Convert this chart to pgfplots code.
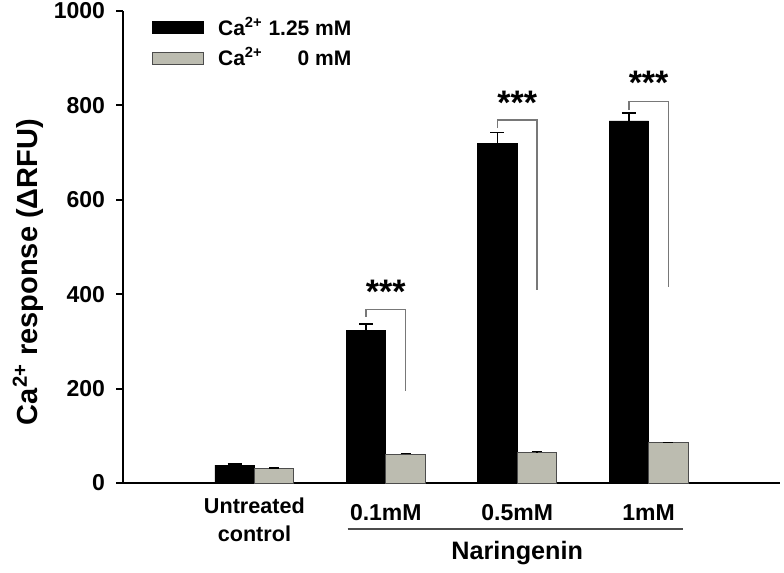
\documentclass[border=0pt]{standalone}
\usepackage{fontspec}
\setmainfont{Liberation Sans}
\usepackage{pgfplots}
\pgfplotsset{compat=1.18}
\usepackage{pgfplotstable}
\definecolor{bargray}{RGB}{188,188,176}
\definecolor{brk}{RGB}{120,120,120}
\pgfplotstableread{
x y e
0 38 2
1 324 13
2 720 22
3 767 17
}\blackdata
\pgfplotstableread{
x y e
0 30 1.5
1 61 2
2 64 3
3 85 1
}\graydata
\begin{document}
\begin{tikzpicture}
\begin{axis}[
  scale only axis, width=328.5pt, height=236pt,
  xmin=-1, xmax=4, ymin=0, ymax=1000,
  ybar=0pt, bar width=0.3,
  axis x line=bottom, axis y line=left,
  axis line style={-, line width=0.9pt},
  xtick=\empty,
  ytick={0,200,400,600,800,1000},
  tick align=outside, major tick length=3.5pt,
  ytick style={black, line width=0.9pt},
  /pgf/number format/assume math mode=true,
  /pgf/number format/1000 sep={},
  yticklabel style={font=\bfseries\fontsize{11.5}{13}\selectfont, xshift=-2pt},
  ylabel={\bfseries Ca\textsuperscript{2+} response (ΔRFU)},
  ylabel style={font=\fontsize{14.5}{16}\selectfont, at={(axis description cs:-0.1446,0.447)}, anchor=center},
  clip=false,
  legend style={draw=none, fill=none, at={(axis description cs:0.044,0.996)}, anchor=north west,
    font=\bfseries\fontsize{10.5}{12}\selectfont, row sep=0.5pt, inner sep=0pt, column sep=5pt},
  legend cell align=left,
]
\addplot[fill=black, draw=black,
  legend image code/.code={\draw[fill=black,draw=black] (0pt,-3pt) rectangle (25.5pt,3pt);},
  error bars/.cd, y dir=plus, y explicit,
  error bar style={line width=0.7pt, black},
  error mark options={rotate=90, mark size=3.5pt, line width=0.7pt, black}]
  table[x=x, y=y, y error=e] {\blackdata};
\addlegendentry{Ca\textsuperscript{2+} 1.25 mM}
\addplot[fill=bargray, draw=black!70, line width=0.4pt,
  legend image code/.code={\draw[fill=bargray,draw=black!70] (0pt,-3pt) rectangle (25.5pt,3pt);},
  error bars/.cd, y dir=plus, y explicit,
  error bar style={line width=0.7pt, black},
  error mark options={rotate=90, mark size=2.5pt, line width=0.7pt, black}]
  table[x=x, y=y, y error=e] {\graydata};
\addlegendentry{Ca\textsuperscript{2+} \hphantom{1.2}0 mM}

% significance brackets
\draw[brk, line width=0.6pt] (axis cs:0.85,352) -- (axis cs:0.85,367) -- (axis cs:1.15,367) -- (axis cs:1.15,195);
\draw[brk, line width=0.6pt] (axis cs:1.85,752) -- (axis cs:1.85,769) -- (axis cs:2.15,769) -- (axis cs:2.15,409);
\draw[brk, line width=0.6pt] (axis cs:2.85,790) -- (axis cs:2.85,809) -- (axis cs:3.15,809) -- (axis cs:3.15,415);
\node[font=\bfseries\fontsize{17}{17}\selectfont] at (axis cs:1,405) {***};
\node[font=\bfseries\fontsize{17}{17}\selectfont] at (axis cs:2,805) {***};
\node[font=\bfseries\fontsize{17}{17}\selectfont] at (axis cs:3,847) {***};

% category labels
\node[font=\bfseries\fontsize{10.8}{14}\selectfont, align=center] at ([yshift=-18.5pt]axis cs:0,0) {Untreated\\control};
\node[font=\bfseries\fontsize{11.5}{13}\selectfont] at ([yshift=-15pt]axis cs:1,0) {0.1mM};
\node[font=\bfseries\fontsize{11.5}{13}\selectfont] at ([yshift=-15pt]axis cs:2,0) {0.5mM};
\node[font=\bfseries\fontsize{11.5}{13}\selectfont] at ([yshift=-15pt]axis cs:3,0) {1mM};
\draw[black!70, line width=0.6pt] ([yshift=-23pt]axis cs:0.71,0) -- ([yshift=-23pt]axis cs:3.26,0);
\node[font=\bfseries\fontsize{12.6}{14}\selectfont] at ([yshift=-35pt]axis cs:2,0) {Naringenin};
\end{axis}
\pgfresetboundingbox
\path ([shift={(-61.5pt,-44.5pt)}]current axis.south west) rectangle ([shift={(2pt,5.5pt)}]current axis.north east);
\end{tikzpicture}
\end{document}
